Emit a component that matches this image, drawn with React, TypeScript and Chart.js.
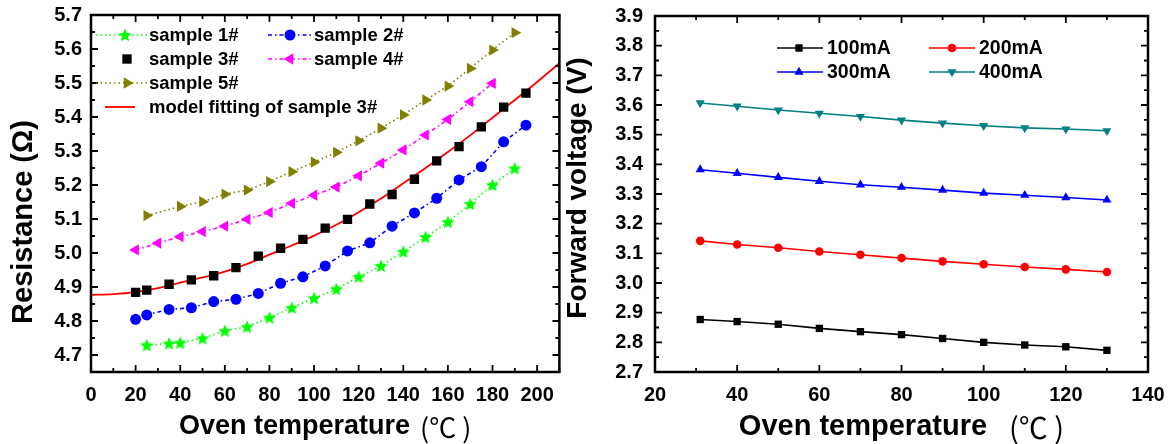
import React, { useEffect, useRef } from 'react';
import { Chart, registerables } from 'chart.js';

Chart.register(...registerables);

const SANS = '"Liberation Sans", Arial, Helvetica, sans-serif';
const CJK = '"Noto Sans CJK SC", "DejaVu Sans", sans-serif';

// ---------------- Left chart: Resistance vs oven temperature ----------------
const resXTicks = [0, 20, 40, 60, 80, 100, 120, 140, 160, 180, 200];
const resYTicks = [4.7, 4.8, 4.9, 5.0, 5.1, 5.2, 5.3, 5.4, 5.5, 5.6, 5.7];

const sample1T = [25, 35, 40, 50, 60, 70, 80, 90, 100, 110, 120, 130, 140, 150, 160, 170, 180, 190];
const sample1R = [4.729, 4.734, 4.736, 4.749, 4.771, 4.783, 4.81, 4.839, 4.867, 4.894, 4.93, 4.962, 5.004, 5.047, 5.091, 5.144, 5.2, 5.249];

const sample2T = [20, 25, 35, 45, 55, 65, 75, 85, 95, 105, 115, 125, 135, 145, 155, 165, 175, 185, 195];
const sample2R = [4.805, 4.818, 4.834, 4.839, 4.857, 4.864, 4.881, 4.911, 4.93, 4.962, 5.006, 5.03, 5.079, 5.118, 5.161, 5.215, 5.254, 5.327, 5.376];

const sample3T = [20, 25, 35, 45, 55, 65, 75, 85, 95, 105, 115, 125, 135, 145, 155, 165, 175, 185, 195];
const sample3R = [4.884, 4.891, 4.908, 4.921, 4.933, 4.957, 4.991, 5.014, 5.04, 5.073, 5.099, 5.144, 5.172, 5.217, 5.271, 5.313, 5.371, 5.429, 5.47];

const sample4T = [20, 30, 40, 50, 60, 70, 80, 90, 100, 110, 120, 130, 140, 150, 160, 170, 180];
const sample4R = [5.009, 5.029, 5.048, 5.063, 5.079, 5.099, 5.119, 5.146, 5.17, 5.194, 5.227, 5.264, 5.303, 5.347, 5.393, 5.445, 5.499];

const sample5T = [25, 40, 50, 60, 70, 80, 90, 100, 110, 120, 130, 140, 150, 160, 170, 180, 190];
const sample5R = [5.11, 5.137, 5.151, 5.173, 5.185, 5.21, 5.239, 5.267, 5.296, 5.33, 5.367, 5.406, 5.45, 5.491, 5.543, 5.597, 5.648];

const fitT = [0, 10, 20, 30, 40, 50, 60, 70, 80, 90, 100, 110, 120, 130, 140, 150, 160, 170, 180, 190, 200, 210];
const fitR = [4.877, 4.879, 4.885, 4.897, 4.913, 4.928, 4.945, 4.968, 4.995, 5.022, 5.051, 5.083, 5.12, 5.16, 5.205, 5.25, 5.297, 5.346, 5.398, 5.45, 5.503, 5.558];

const resLabels = ['sample 1#', 'sample 2#', 'sample 3#', 'sample 4#', 'sample 5#', 'model fitting of sample 3#'];

// ---------------- Right chart: Forward voltage vs oven temperature ----------------
const vfXTicks = [20, 40, 60, 80, 100, 120, 140];
const vfYTicks = [2.7, 2.8, 2.9, 3.0, 3.1, 3.2, 3.3, 3.4, 3.5, 3.6, 3.7, 3.8, 3.9];
const vfTemps = [31, 40, 50, 60, 70, 80, 90, 100, 110, 120, 130];
const v100 = [2.877, 2.87, 2.861, 2.847, 2.836, 2.826, 2.813, 2.8, 2.791, 2.785, 2.773];
const v200 = [3.142, 3.13, 3.119, 3.106, 3.095, 3.084, 3.073, 3.063, 3.054, 3.046, 3.037];
const v300 = [3.382, 3.37, 3.356, 3.343, 3.331, 3.323, 3.313, 3.303, 3.296, 3.288, 3.28];
const v400 = [3.607, 3.596, 3.583, 3.572, 3.561, 3.549, 3.539, 3.53, 3.523, 3.519, 3.513];
const vfLabels = ['100mA', '200mA', '300mA', '400mA'];

const xTitleMain = 'Oven temperature';
const xTitleUnit = '(℃ )';
const resYTitle = 'Resistance (Ω)';
const vfYTitle = 'Forward voltage (V)';

function pts(xs: number[], ys: number[]) {
  return xs.map((x, i) => ({ x, y: ys[i] }));
}

function makeStar(color: string, R: number) {
  const c = document.createElement('canvas');
  const s = Math.ceil(2 * R + 2);
  c.width = s;
  c.height = s;
  const ctx = c.getContext('2d')!;
  const cx = s / 2;
  const cy = s / 2 + R * 0.08;
  const r = R * 0.45;
  ctx.beginPath();
  for (let i = 0; i < 10; i++) {
    const a = (i * Math.PI) / 5;
    const rr = i % 2 === 0 ? R : r;
    const px = cx + Math.sin(a) * rr;
    const py = cy - Math.cos(a) * rr;
    if (i === 0) ctx.moveTo(px, py);
    else ctx.lineTo(px, py);
  }
  ctx.closePath();
  ctx.fillStyle = color;
  ctx.fill();
  return c;
}

function drawMarker(ctx: CanvasRenderingContext2D, style: any, x: number, y: number, r: number, rot: number, color: string) {
  ctx.save();
  ctx.fillStyle = color;
  if (style && typeof style === 'object') {
    ctx.drawImage(style, x - style.width / 2, y - style.height / 2);
  } else if (style === 'circle') {
    ctx.beginPath();
    ctx.arc(x, y, r, 0, Math.PI * 2);
    ctx.fill();
  } else if (style === 'rect') {
    const s = r * Math.SQRT1_2;
    ctx.fillRect(x - s, y - s, 2 * s, 2 * s);
  } else if (style === 'triangle') {
    let a = (rot * Math.PI) / 180;
    ctx.beginPath();
    ctx.moveTo(x + Math.sin(a) * r, y - Math.cos(a) * r);
    a += (2 * Math.PI) / 3;
    ctx.lineTo(x + Math.sin(a) * r, y - Math.cos(a) * r);
    a += (2 * Math.PI) / 3;
    ctx.lineTo(x + Math.sin(a) * r, y - Math.cos(a) * r);
    ctx.closePath();
    ctx.fill();
  }
  ctx.restore();
}

const frameTicksPlugin = {
  id: 'frameTicks',
  afterDraw(chart: any, _a: any, opts: any) {
    const { ctx, chartArea: ca } = chart;
    const xs = chart.scales.x;
    const ys = chart.scales.y;
    ctx.save();
    ctx.strokeStyle = '#000';
    ctx.lineWidth = 1.8;
    const major = 7;
    const minor = 4;
    const isMajor = (v: number, step: number) => Math.abs(v / step - Math.round(v / step)) < 1e-6;
    const nx = Math.round((xs.max - xs.min) / opts.xMinor);
    for (let i = 0; i <= nx; i++) {
      const v = xs.min + i * opts.xMinor;
      const px = xs.getPixelForValue(v);
      const len = isMajor(v, opts.xMajor) ? major : minor;
      ctx.beginPath();
      ctx.moveTo(px, ca.bottom);
      ctx.lineTo(px, ca.bottom - len);
      ctx.moveTo(px, ca.top);
      ctx.lineTo(px, ca.top + len);
      ctx.stroke();
    }
    const ny = Math.round((ys.max - ys.min) / opts.yMinor);
    for (let i = 0; i <= ny; i++) {
      const v = ys.min + i * opts.yMinor;
      const py = ys.getPixelForValue(v);
      const len = isMajor(v, opts.yMajor) ? major : minor;
      ctx.beginPath();
      ctx.moveTo(ca.left, py);
      ctx.lineTo(ca.left + len, py);
      ctx.moveTo(ca.right, py);
      ctx.lineTo(ca.right - len, py);
      ctx.stroke();
    }
    ctx.lineWidth = 2.5;
    ctx.strokeRect(ca.left, ca.top, ca.right - ca.left, ca.bottom - ca.top);
    ctx.restore();
  },
};

const axisTitlesPlugin = {
  id: 'axisTitles',
  afterDraw(chart: any, _a: any, opts: any) {
    const { ctx, chartArea: ca } = chart;
    ctx.save();
    ctx.fillStyle = '#000';
    ctx.translate(opts.yX, opts.yY);
    ctx.rotate(-Math.PI / 2);
    ctx.font = `bold ${opts.ySize}px ${SANS}`;
    ctx.textAlign = 'center';
    ctx.textBaseline = 'middle';
    ctx.fillText(opts.yText, 0, 0);
    ctx.restore();

    ctx.save();
    ctx.fillStyle = '#000';
    ctx.textBaseline = 'middle';
    ctx.textAlign = 'left';
    ctx.font = `bold ${opts.xSize}px ${SANS}`;
    const w1 = ctx.measureText(opts.xMain).width;
    ctx.font = `${opts.xSize}px ${CJK}`;
    const w2 = ctx.measureText(opts.xUnit).width;
    const total = w1 + opts.xGap + w2;
    const x0 = (ca.left + ca.right) / 2 - total / 2 + (opts.xShift || 0);
    ctx.font = `bold ${opts.xSize}px ${SANS}`;
    ctx.fillText(opts.xMain, x0, opts.xY);
    ctx.font = `${opts.xSize}px ${CJK}`;
    ctx.fillText(opts.xUnit, x0 + w1 + opts.xGap, opts.xY + 1);
    ctx.restore();
  },
};

const customLegendPlugin = {
  id: 'customLegend',
  afterDraw(chart: any, _a: any, opts: any) {
    const { ctx } = chart;
    ctx.save();
    for (const it of opts.items) {
      const ds = chart.data.datasets[it.ds];
      if (it.line) {
        ctx.save();
        ctx.strokeStyle = ds.borderColor;
        ctx.lineWidth = ds.borderWidth;
        ctx.setLineDash(ds.borderDash || []);
        ctx.beginPath();
        ctx.moveTo(it.x1, it.y);
        ctx.lineTo(it.x2, it.y);
        ctx.stroke();
        ctx.restore();
      }
      if (it.marker) {
        drawMarker(ctx, ds.pointStyle, it.mx, it.y, ds.pointRadius, ds.pointRotation || 0, ds.pointBackgroundColor);
      }
      ctx.fillStyle = '#000';
      ctx.font = `bold ${opts.fontSize}px ${SANS}`;
      ctx.textAlign = 'left';
      ctx.textBaseline = 'middle';
      ctx.fillText(ds.label, it.tx, it.y + 1);
    }
    ctx.restore();
  },
};

function linScale(min: number, max: number, ticksArr: number[], fitSize: number, isX: boolean, pad: number, fontSize: number, decimals: number) {
  return {
    type: 'linear',
    min,
    max,
    afterBuildTicks: (s: any) => {
      s.ticks = ticksArr.map((v) => ({ value: v }));
    },
    afterFit: (s: any) => {
      if (isX) {
        s.height = fitSize;
        s.paddingLeft = 0;
        s.paddingRight = 0;
      } else {
        s.width = fitSize;
        s.paddingTop = 0;
        s.paddingBottom = 0;
      }
    },
    grid: { display: false, drawTicks: false },
    border: { display: false },
    ticks: {
      color: '#000',
      font: { family: SANS, size: fontSize, weight: 'bold' },
      padding: pad,
      autoSkip: false,
      maxRotation: 0,
      minRotation: 0,
      callback: (v: any) => Number(v).toFixed(decimals),
    },
  };
}

export default function App() {
  const leftRef = useRef<HTMLCanvasElement | null>(null);
  const rightRef = useRef<HTMLCanvasElement | null>(null);

  useEffect(() => {
    const starImg = makeStar('#00ff00', 7);
    const dotted = [1.5, 3];
    const dashDot = [4, 3, 1.5, 3];

    const left = new Chart(leftRef.current!, {
      type: 'line',
      data: {
        datasets: [
          {
            label: resLabels[0],
            data: pts(sample1T, sample1R),
            borderColor: '#00ff00',
            borderWidth: 1.6,
            borderDash: dotted,
            pointStyle: starImg as any,
            pointRadius: 6.5,
            pointBackgroundColor: '#00ff00',
            pointBorderColor: '#00ff00',
            pointBorderWidth: 0,
          },
          {
            label: resLabels[1],
            data: pts(sample2T, sample2R),
            borderColor: '#0000ff',
            borderWidth: 1.6,
            borderDash: dashDot,
            pointStyle: 'circle',
            pointRadius: 5.5,
            pointBackgroundColor: '#0000ff',
            pointBorderColor: '#0000ff',
            pointBorderWidth: 0,
          },
          {
            label: resLabels[2],
            data: pts(sample3T, sample3R),
            showLine: false,
            borderColor: '#000000',
            borderWidth: 0,
            pointStyle: 'rect',
            pointRadius: 6.6,
            pointBackgroundColor: '#000000',
            pointBorderColor: '#000000',
            pointBorderWidth: 0,
          },
          {
            label: resLabels[3],
            data: pts(sample4T, sample4R),
            borderColor: '#ff00ff',
            borderWidth: 1.6,
            borderDash: dashDot,
            pointStyle: 'triangle',
            pointRotation: 270,
            pointRadius: 6.5,
            pointBackgroundColor: '#ff00ff',
            pointBorderColor: '#ff00ff',
            pointBorderWidth: 0,
          },
          {
            label: resLabels[4],
            data: pts(sample5T, sample5R),
            borderColor: '#808000',
            borderWidth: 1.6,
            borderDash: dotted,
            pointStyle: 'triangle',
            pointRotation: 90,
            pointRadius: 6.5,
            pointBackgroundColor: '#808000',
            pointBorderColor: '#808000',
            pointBorderWidth: 0,
          },
          {
            label: resLabels[5],
            data: pts(fitT, fitR),
            borderColor: '#ff0000',
            borderWidth: 1.8,
            pointRadius: 0,
            cubicInterpolationMode: 'monotone',
          },
        ] as any,
      },
      options: {
        responsive: false,
        animation: false,
        events: [],
        layout: { padding: { left: 0, top: 15, right: 4, bottom: 0 } },
        plugins: {
          legend: { display: false },
          tooltip: { enabled: false },
          frameTicks: { xMinor: 10, xMajor: 20, yMinor: 0.05, yMajor: 0.1 },
          axisTitles: {
            yText: resYTitle, yX: 24, yY: 222, ySize: 29,
            xMain: xTitleMain, xUnit: xTitleUnit, xGap: 10, xSize: 27, xY: 427,
          },
          customLegend: {
            fontSize: 18.5,
            items: [
              { ds: 0, line: true, marker: true, x1: 96, x2: 147, mx: 125, tx: 149, y: 35 },
              { ds: 1, line: true, marker: true, x1: 268, x2: 312, mx: 290, tx: 314, y: 35 },
              { ds: 2, line: false, marker: true, mx: 127, tx: 149, y: 59 },
              { ds: 3, line: true, marker: true, x1: 268, x2: 312, mx: 290, tx: 314, y: 59 },
              { ds: 4, line: true, marker: true, x1: 96, x2: 147, mx: 127, tx: 149, y: 83 },
              { ds: 5, line: true, marker: false, x1: 105, x2: 135, tx: 149, y: 107 },
            ],
          },
        } as any,
        scales: {
          x: linScale(0, 210, resXTicks, 72, true, 11, 20, 0),
          y: linScale(4.65, 5.7, resYTicks, 91, false, 9, 20, 1),
        } as any,
      },
      plugins: [frameTicksPlugin, axisTitlesPlugin, customLegendPlugin],
    });

    const mk = (label: string, data: number[], color: string, style: string, rot: number, r: number) => ({
      label,
      data: pts(vfTemps, data),
      borderColor: color,
      borderWidth: 1.6,
      pointStyle: style,
      pointRotation: rot,
      pointRadius: r,
      pointBackgroundColor: color,
      pointBorderColor: color,
      pointBorderWidth: 0,
    });

    const right = new Chart(rightRef.current!, {
      type: 'line',
      data: {
        datasets: [
          mk(vfLabels[0], v100, '#000000', 'rect', 0, 5.2),
          mk(vfLabels[1], v200, '#ff0000', 'circle', 0, 4.3),
          mk(vfLabels[2], v300, '#0000ff', 'triangle', 0, 5.3),
          mk(vfLabels[3], v400, '#008080', 'triangle', 180, 5.3),
        ] as any,
      },
      options: {
        responsive: false,
        animation: false,
        events: [],
        layout: { padding: { left: 0, top: 16, right: 24, bottom: 0 } },
        plugins: {
          legend: { display: false },
          tooltip: { enabled: false },
          frameTicks: { xMinor: 10, xMajor: 20, yMinor: 0.05, yMajor: 0.1 },
          axisTitles: {
            yText: vfYTitle, yX: 22, yY: 188, ySize: 28,
            xMain: xTitleMain, xUnit: xTitleUnit, xGap: 22, xSize: 29, xY: 427,
          },
          customLegend: {
            fontSize: 19.5,
            items: [
              { ds: 0, line: true, marker: true, x1: 221, x2: 267, mx: 243, tx: 271, y: 48 },
              { ds: 1, line: true, marker: true, x1: 373, x2: 419, mx: 396, tx: 423, y: 48 },
              { ds: 2, line: true, marker: true, x1: 221, x2: 267, mx: 243, tx: 271, y: 72 },
              { ds: 3, line: true, marker: true, x1: 373, x2: 419, mx: 396, tx: 423, y: 72 },
            ],
          },
        } as any,
        scales: {
          x: linScale(20, 140, vfXTicks, 72, true, 11, 20, 0),
          y: linScale(2.7, 3.9, vfYTicks, 99, false, 12, 20, 1),
        } as any,
      },
      plugins: [frameTicksPlugin, axisTitlesPlugin, customLegendPlugin],
    });

    return () => {
      left.destroy();
      right.destroy();
    };
  }, []);

  return (
    <div style={{ position: 'absolute', left: 0, top: 0, width: 1172, height: 444, background: '#ffffff', overflow: 'hidden' }}>
      <canvas ref={leftRef} width={566} height={444} style={{ position: 'absolute', left: 0, top: 0, width: 566, height: 444 }} />
      <canvas ref={rightRef} width={616} height={444} style={{ position: 'absolute', left: 556, top: 0, width: 616, height: 444 }} />
    </div>
  );
}
